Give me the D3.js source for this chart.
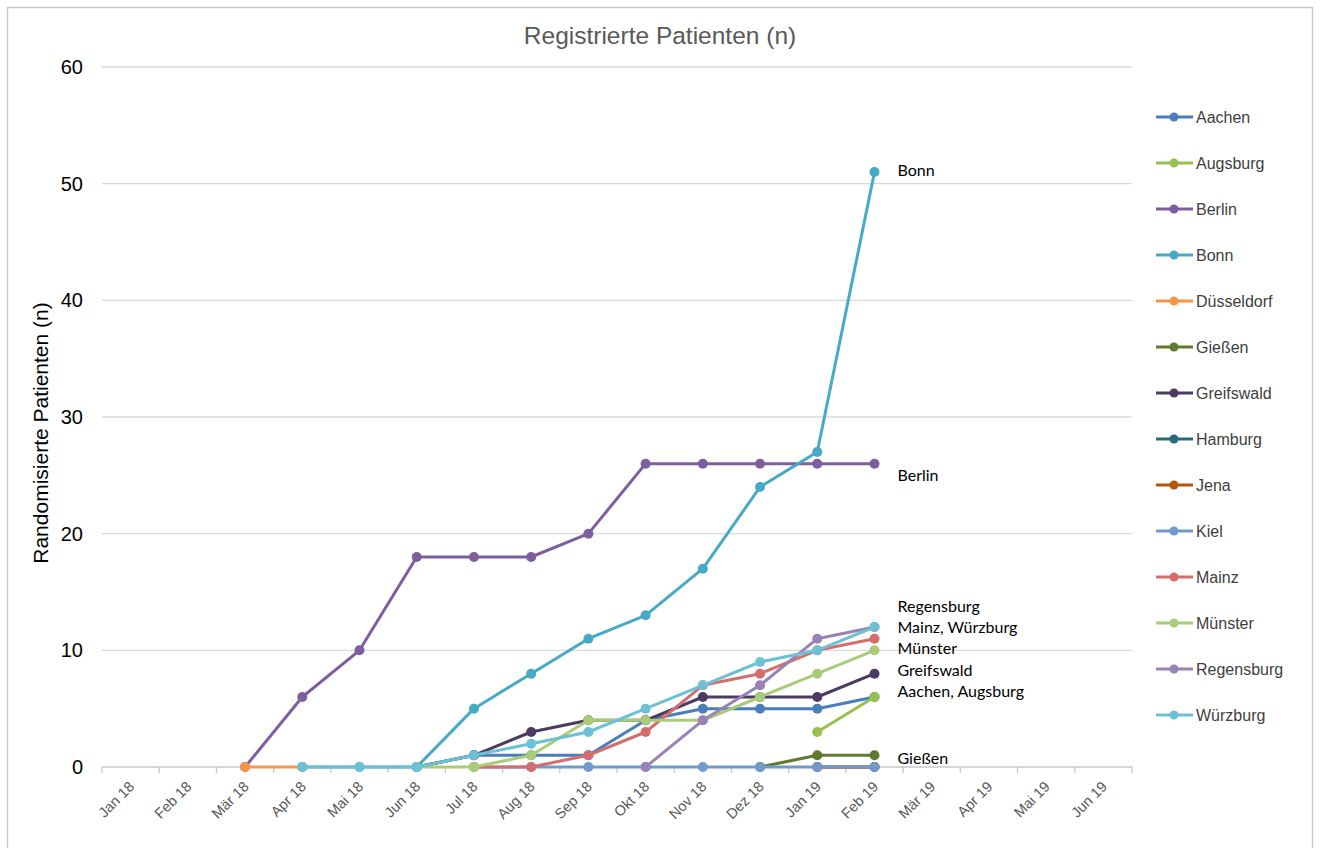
<!DOCTYPE html>
<html>
<head>
<meta charset="utf-8">
<script src="https://cdn.jsdelivr.net/npm/d3@7"></script>
<style>
  html, body { margin: 0; padding: 0; background: #fff; }
  svg { display: block; }
</style>
</head>
<body>
<svg id="chart" width="1320" height="848"></svg>
<script>
// Months on the category axis
const months = ["Jan 18","Feb 18","Mär 18","Apr 18","Mai 18","Jun 18","Jul 18","Aug 18","Sep 18","Okt 18","Nov 18","Dez 18","Jan 19","Feb 19","Mär 19","Apr 19","Mai 19","Jun 19"];

// Cumulative patients per centre (null = no entry for that month)
const aachen     = [null,null,null,null,null,0,1,1,1,4,5,5,5,6,null,null,null,null];
const augsburg   = [null,null,null,null,null,null,null,null,null,null,null,null,3,6,null,null,null,null];
const berlin     = [null,null,0,6,10,18,18,18,20,26,26,26,26,26,null,null,null,null];
const bonn       = [null,null,null,0,0,0,5,8,11,13,17,24,27,51,null,null,null,null];
const duesseldorf= [null,null,0,0,null,null,null,null,null,null,null,null,null,null,null,null,null,null];
const giessen    = [null,null,null,null,null,null,null,null,null,null,null,0,1,1,null,null,null,null];
const greifswald = [null,null,null,null,null,0,1,3,4,4,6,6,6,8,null,null,null,null];
const hamburg    = [null,null,null,null,null,null,null,null,null,null,null,null,0,0,null,null,null,null];
const jena       = [null,null,null,null,null,null,null,null,null,null,null,null,0,0,null,null,null,null];
const kiel       = [null,null,null,null,null,null,0,0,0,0,0,0,0,0,null,null,null,null];
const mainz      = [null,null,null,null,null,null,0,0,1,3,7,8,10,11,null,null,null,null];
const muenster   = [null,null,null,null,null,0,0,1,4,4,4,6,8,10,null,null,null,null];
const regensburg = [null,null,null,null,null,null,null,null,null,0,4,7,11,12,null,null,null,null];
const wuerzburg  = [null,null,null,0,0,0,1,2,3,5,7,9,10,12,null,null,null,null];

const seriesNames  = ["Aachen","Augsburg","Berlin","Bonn","Düsseldorf","Gießen","Greifswald","Hamburg","Jena","Kiel","Mainz","Münster","Regensburg","Würzburg"];
const seriesValues = [aachen,augsburg,berlin,bonn,duesseldorf,giessen,greifswald,hamburg,jena,kiel,mainz,muenster,regensburg,wuerzburg];
const seriesColors = ["#4a7ebb","#98c04c","#7d5fa0","#46a9c5","#f79646","#5f7a2e","#4b3a62","#276a7c","#b65708","#7099cc","#d36e6c","#a8cc78","#9983b6","#6dc1d6"];

// Y ticks
const yTicks = [0,10,20,30,40,50,60];

// End-of-line annotations (value = vertical anchor on the y scale)
const endLabels = ["Bonn","Berlin","Regensburg","Mainz, Würzburg","Münster","Greifswald","Aachen, Augsburg","Gießen"];
const endLabelValues = [51.1,25.0,13.8,12.0,10.2,8.3,6.5,0.75];

const svg = d3.select("#chart");

// frame around the chart
svg.append("path")
  .attr("d","M7.5,848 V7.5 H1312.5 V848")
  .attr("fill","none").attr("stroke","#c9c9c9").attr("stroke-width",1.5);

const x = d3.scaleBand().domain(months).range([102,1132]).padding(0);
const cx = m => x(m) + x.bandwidth()/2;
const y = d3.scaleLinear().domain([0,60]).range([767,67]);

// gridlines
svg.append("g").selectAll("line")
  .data(yTicks.filter(t => t > 0))
  .join("line")
  .attr("x1",102).attr("x2",1132)
  .attr("y1",d => y(d)).attr("y2",d => y(d))
  .attr("stroke","#d9d9d9").attr("stroke-width",1.3);

// y tick labels
svg.append("g").selectAll("text")
  .data(yTicks)
  .join("text")
  .attr("x",83).attr("y",d => y(d))
  .attr("dy","0.35em")
  .attr("text-anchor","end")
  .attr("font-family","Liberation Sans, Arial, sans-serif")
  .attr("font-size",20).attr("fill","#000")
  .text(d => d);

// x axis line + tick marks at category boundaries
const xAxis = svg.append("g");
xAxis.append("line")
  .attr("x1",102).attr("x2",1132).attr("y1",y(0)).attr("y2",y(0))
  .attr("stroke","#c8c8c8").attr("stroke-width",1.3);
xAxis.selectAll("line.tick")
  .data(months.map(m => x(m)).concat([x.range()[1]]))
  .join("line").attr("class","tick")
  .attr("x1",d => d).attr("x2",d => d)
  .attr("y1",y(0)).attr("y2",y(0)+6)
  .attr("stroke","#c8c8c8").attr("stroke-width",1.3);
xAxis.selectAll("text")
  .data(months)
  .join("text")
  .attr("transform",d => `translate(${cx(d)+1},${y(0)+17}) rotate(-45)`)
  .attr("text-anchor","end")
  .attr("dy","0.35em")
  .attr("font-family","Liberation Sans, Arial, sans-serif")
  .attr("font-size",14.5).attr("fill","#595959")
  .text(d => d);

// lines and markers
const line = d3.line()
  .defined(d => d.v !== null)
  .x(d => cx(d.m)).y(d => y(d.v));

const series = seriesNames.map((name,i) => ({
  name, color: seriesColors[i],
  pts: seriesValues[i].map((v,j) => ({m: months[j], v}))
}));

const sg = svg.append("g").selectAll("g").data(series).join("g");
sg.append("path")
  .attr("d",d => line(d.pts))
  .attr("fill","none").attr("stroke",d => d.color)
  .attr("stroke-width",3).attr("stroke-linejoin","round");
sg.selectAll("circle")
  .data(d => d.pts.filter(p => p.v !== null).map(p => ({...p, color: d.color})))
  .join("circle")
  .attr("cx",d => cx(d.m)).attr("cy",d => y(d.v))
  .attr("r",5).attr("fill",d => d.color);

// end-of-line annotations
svg.append("g").selectAll("text")
  .data(endLabels)
  .join("text")
  .attr("x",cx("Feb 19")+23)
  .attr("y",(d,i) => y(endLabelValues[i]))
  .attr("dy","0.35em")
  .attr("font-family","Lato, 'Open Sans', sans-serif")
  .attr("font-size",16).attr("fill","#000")
  .text(d => d);

// title
svg.append("text")
  .attr("x",660).attr("y",35).attr("dy","0.35em")
  .attr("text-anchor","middle")
  .attr("font-family","Liberation Sans, Arial, sans-serif")
  .attr("font-size",24.5).attr("fill","#595959")
  .text("Registrierte Patienten (n)");

// y axis title
svg.append("text")
  .attr("transform","translate(41,433) rotate(-90)")
  .attr("text-anchor","middle").attr("dy","0.35em")
  .attr("font-family","Liberation Sans, Arial, sans-serif")
  .attr("font-size",21).attr("fill","#000")
  .text("Randomisierte Patienten (n)");

// legend
const lg = svg.append("g").selectAll("g")
  .data(series)
  .join("g")
  .attr("transform",(d,i) => `translate(0,${117 + i*46})`);
lg.append("line")
  .attr("x1",1156).attr("x2",1193).attr("y1",0).attr("y2",0)
  .attr("stroke",d => d.color).attr("stroke-width",3);
lg.append("circle")
  .attr("cx",1174).attr("cy",0).attr("r",4.5)
  .attr("fill",d => d.color);
lg.append("text")
  .attr("x",1196).attr("y",0).attr("dy","0.35em")
  .attr("font-family","Liberation Sans, Arial, sans-serif")
  .attr("font-size",16).attr("fill","#404040")
  .text(d => d.name);
</script>
</body>
</html>
